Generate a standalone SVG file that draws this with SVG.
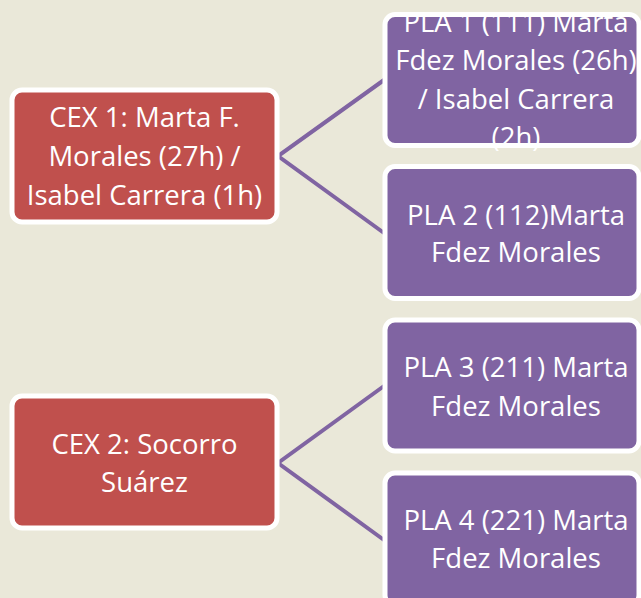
<svg xmlns="http://www.w3.org/2000/svg" width="641" height="598" viewBox="0 0 641 598">
<style>
.bg{fill:#EAE8D9}
.cex{fill:#C0504D}
.pla{fill:#8064A2}
.brd{fill:none;stroke:#FFFFFF;stroke-width:5}
.t{font-family:"Open Sans","Noto Sans",sans-serif;font-size:27.5px;fill:#FFFFFF;text-anchor:middle}
.c{stroke:#8064A2;stroke-width:4;fill:none}
</style>
<rect class="bg" x="0" y="0" width="641" height="598"/>
<g id="connectors">
<polyline class="c" points="384,80 278,156 384,233"/>
<polyline class="c" points="384,386 278,463 384,540"/>
</g>
<g id="cex1">
<rect class="cex" x="12" y="90" width="265" height="132" rx="10"/>
<text class="t" x="144.5" y="127">CEX 1: Marta F.</text>
<text class="t" x="144.5" y="166">Morales (27h) /</text>
<text class="t" x="144.5" y="205">Isabel Carrera (1h)</text>
<rect class="brd" x="12" y="90" width="265" height="132" rx="10"/>
</g>
<g id="cex2">
<rect class="cex" x="12" y="396" width="265" height="132" rx="10"/>
<text class="t" x="144.5" y="454">CEX 2: Socorro</text>
<text class="t" x="144.5" y="492">Suárez</text>
<rect class="brd" x="12" y="396" width="265" height="132" rx="10"/>
</g>
<g id="pla1">
<rect class="pla" x="385" y="14.5" width="254" height="131" rx="10"/>
<text class="t" x="516" y="32">PLA 1 (111) Marta</text>
<text class="t" x="516" y="70">Fdez Morales (26h)</text>
<text class="t" x="516" y="109">/ Isabel Carrera</text>
<text class="t" x="516" y="147">(2h)</text>
<rect class="brd" x="385" y="14.5" width="254" height="131" rx="10"/>
</g>
<g id="pla2">
<rect class="pla" x="385" y="166.5" width="254" height="132" rx="10"/>
<text class="t" x="516" y="225">PLA 2 (112)Marta</text>
<text class="t" x="516" y="262">Fdez Morales</text>
<rect class="brd" x="385" y="166.5" width="254" height="132" rx="10"/>
</g>
<g id="pla3">
<rect class="pla" x="385" y="320" width="254" height="131" rx="10"/>
<text class="t" x="516" y="377">PLA 3 (211) Marta</text>
<text class="t" x="516" y="416">Fdez Morales</text>
<rect class="brd" x="385" y="320" width="254" height="131" rx="10"/>
</g>
<g id="pla4">
<rect class="pla" x="385" y="473" width="254" height="132" rx="10"/>
<text class="t" x="516" y="530">PLA 4 (221) Marta</text>
<text class="t" x="516" y="568">Fdez Morales</text>
<rect class="brd" x="385" y="473" width="254" height="132" rx="10"/>
</g>
</svg>
